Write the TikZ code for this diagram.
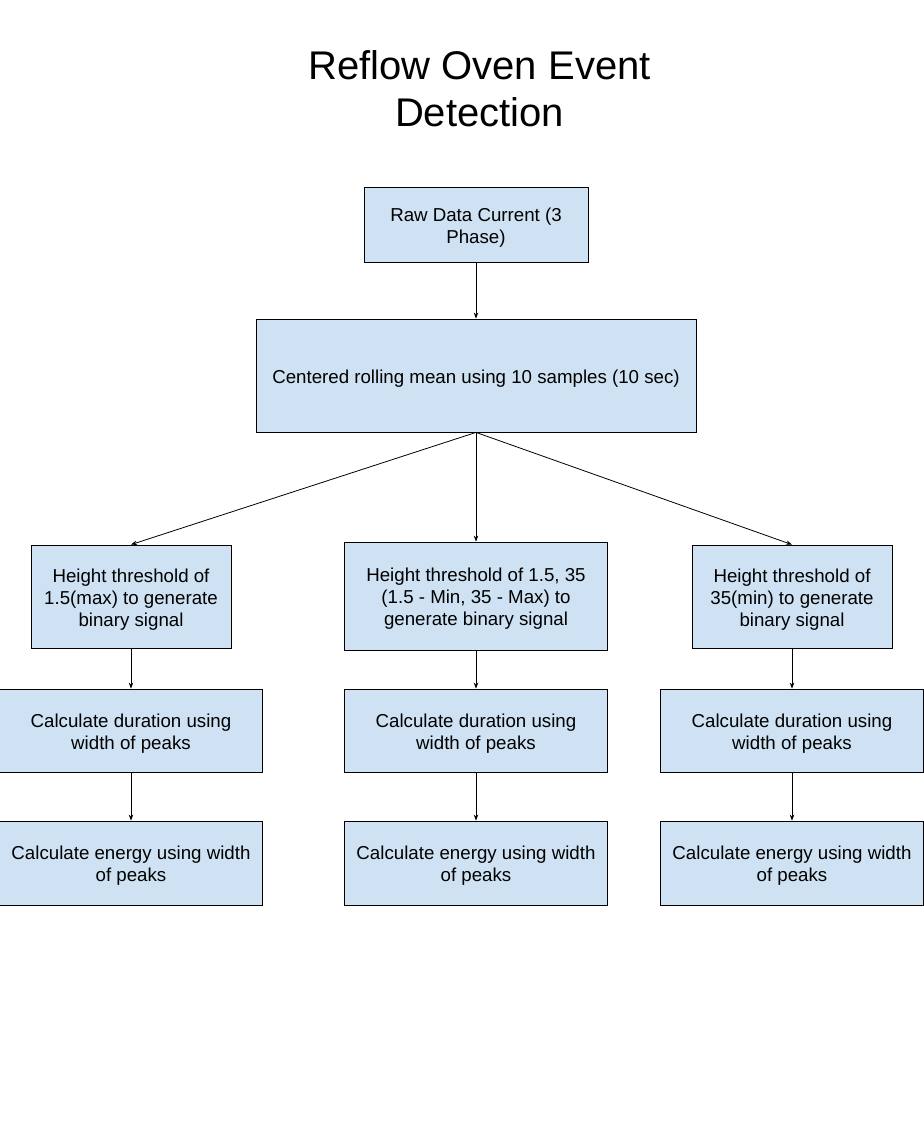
\documentclass[tikz,border=0pt]{standalone}
\usepackage{fontspec}
\setmainfont{Liberation Sans}
\usetikzlibrary{arrows.meta}
\definecolor{boxblue}{HTML}{CFE2F3}
\tikzset{
  box/.style = {draw, fill = boxblue, line width = 0.8pt, align = center,
    inner sep = 0pt, font = \fontsize{18.7}{22}\selectfont,
    node contents = {\rule{0pt}{20pt}#1\rule[-5pt]{0pt}{5pt}}},
  flow/.style = {-{Stealth[length = 6pt, width = 4.5pt]}, line width = 0.8pt}
}

\begin{document}
\begin{tikzpicture}[x = 1pt, y = -1pt]
    \useasboundingbox (0, 0) rectangle (924, 1133);
    \node[align = center, font = \fontsize{40}{47}\selectfont] (Title) at (479.5, 89) {Reflow Oven Event\\Detection};
    \node (Raw) at (476, 224.5) [minimum width = 224, minimum height = 75, box = {Raw Data Current (3\\Phase)}];
    \node (Mean) at (476, 375.5) [minimum width = 440, minimum height = 113, box = {Centered rolling mean using 10 samples (10 sec)}];
    \node (Max) at (131, 596.5) [minimum width = 200, minimum height = 103, box = {Height threshold of\\1.5(max) to generate\\binary signal}];
    \node (Both) at (476, 596) [minimum width = 263, minimum height = 108, box = {Height threshold of 1.5, 35\\(1.5 - Min, 35 - Max) to\\generate binary signal}];
    \node (Min) at (792, 596.5) [minimum width = 200, minimum height = 103, box = {Height threshold of\\35(min) to generate\\binary signal}];
    \node (Max Duration) at (131, 730.5) [minimum width = 263, minimum height = 83, box = {Calculate duration using\\width of peaks}];
    \node (Both Duration) at (476, 730.5) [minimum width = 263, minimum height = 83, box = {Calculate duration using\\width of peaks}];
    \node (Min Duration) at (792, 730.5) [minimum width = 263, minimum height = 83, box = {Calculate duration using\\width of peaks}];
    \node (Max Energy) at (131, 863) [minimum width = 263, minimum height = 84, box = {Calculate energy using width\\of peaks}];
    \node (Both Energy) at (476, 863) [minimum width = 263, minimum height = 84, box = {Calculate energy using width\\of peaks}];
    \node (Min Energy) at (792, 863) [minimum width = 263, minimum height = 84, box = {Calculate energy using width\\of peaks}];
    \draw[flow] (Raw) -- (Mean);
    \draw[flow] (Mean.south) -- (Max.north);
    \draw[flow] (Mean.south) -- (Both.north);
    \draw[flow] (Mean.south) -- (Min.north);
    \draw[flow] (Max) -- (Max Duration);
    \draw[flow] (Both) -- (Both Duration);
    \draw[flow] (Min) -- (Min Duration);
    \draw[flow] (Max Duration) -- (Max Energy);
    \draw[flow] (Both Duration) -- (Both Energy);
    \draw[flow] (Min Duration) -- (Min Energy);
  \end{tikzpicture}
\end{document}
